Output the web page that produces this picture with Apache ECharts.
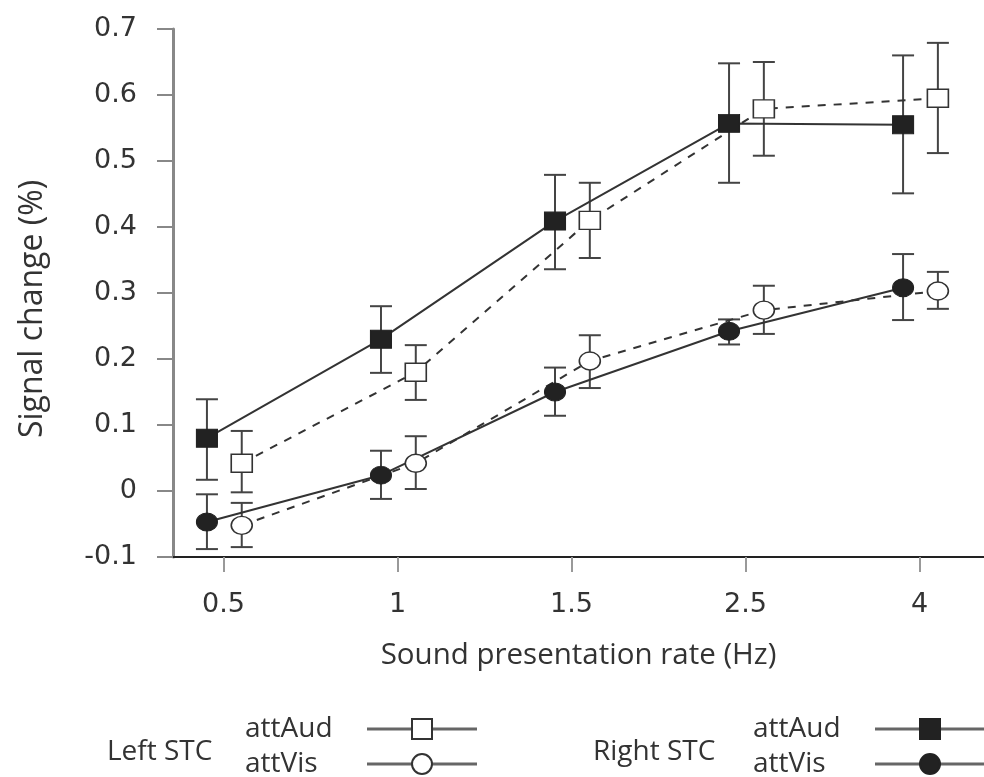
<!DOCTYPE html>
<html>
<head>
<meta charset="utf-8">
<script src="https://cdn.jsdelivr.net/npm/echarts@6/dist/echarts.min.js"></script>
<style>html,body{margin:0;padding:0;background:#fff;}#c{width:984px;height:777px;}</style>
</head>
<body>
<div id="c"></div>
<script>
// Categories (sound presentation rate, Hz) and their axis positions
const xTicks = ['0.5', '1', '1.5', '2.5', '4'];
const xPos = [1, 2, 3, 4, 5];

// Right STC, attend auditory (filled squares)
const rightAud   = [0.080, 0.230, 0.409, 0.557, 0.555];
const rightAudLo = [0.017, 0.179, 0.336, 0.467, 0.451];
const rightAudHi = [0.139, 0.280, 0.479, 0.648, 0.660];
// Right STC, attend visual (filled circles)
const rightVis   = [-0.047, 0.024, 0.150, 0.242, 0.308];
const rightVisLo = [-0.088, -0.012, 0.114, 0.222, 0.259];
const rightVisHi = [-0.005, 0.061, 0.187, 0.260, 0.359];
// Left STC, attend auditory (open squares)
const leftAud   = [0.042, 0.180, 0.410, 0.579, 0.595];
const leftAudLo = [-0.002, 0.138, 0.353, 0.508, 0.512];
const leftAudHi = [0.091, 0.221, 0.467, 0.650, 0.679];
// Left STC, attend visual (open circles)
const leftVis   = [-0.052, 0.042, 0.197, 0.274, 0.303];
const leftVisLo = [-0.085, 0.003, 0.156, 0.238, 0.276];
const leftVisHi = [-0.018, 0.083, 0.236, 0.311, 0.332];

const OFF_R = -0.095, OFF_L = 0.105;

const chart = echarts.init(document.getElementById('c'), null, {renderer: 'canvas'});

function pts(vals, off) { return xPos.map((x, i) => [x + off, vals[i]]); }
function errs(lo, hi, off) { return xPos.map((x, i) => [x + off, lo[i], hi[i]]); }

function errSeries(lo, hi, off) {
  return {
    type: 'custom', z: 1, silent: true,
    data: errs(lo, hi, off),
    encode: {x: 0, y: [1, 2]},
    renderItem: function (params, api) {
      const x = api.value(0);
      const a = api.coord([x, api.value(1)]);
      const b = api.coord([x, api.value(2)]);
      const hw = 11;
      const st = {stroke: '#444', lineWidth: 2};
      return {type: 'group', children: [
        {type: 'line', shape: {x1: a[0], y1: a[1], x2: b[0], y2: b[1]}, style: st},
        {type: 'line', shape: {x1: a[0] - hw, y1: a[1], x2: a[0] + hw, y2: a[1]}, style: st},
        {type: 'line', shape: {x1: b[0] - hw, y1: b[1], x2: b[0] + hw, y2: b[1]}, style: st}
      ]};
    }
  };
}

function lineSeries(name, vals, off, symbol, filled, dashed) {
  return {
    name: name, type: 'line', z: 3,
    data: pts(vals, off),
    symbol: symbol, symbolSize: [21, 18], showAllSymbol: true,
    itemStyle: filled ? {color: '#222', borderColor: '#222', borderWidth: 1}
                      : {color: '#fff', borderColor: '#333', borderWidth: 1.5},
    lineStyle: {color: '#333', width: 2, type: dashed ? [8, 8] : 'solid'}
  };
}

const legendText = {
  fontFamily: 'Open Sans', fontSize: 28, color: '#333', lineHeight: 28,
  rich: {a: {width: 117, align: 'left', fontFamily: 'Open Sans', fontSize: 28, color: '#333', lineHeight: 28}}
};
const legendCommon = {
  orient: 'vertical', top: 715, height: 80, padding: 0,
  align: 'right', itemWidth: 110, itemHeight: 25, itemGap: 7, selectedMode: false,
  formatter: n => '{a|' + n.split(' ').pop() + '}', textStyle: legendText,
  lineStyle: {type: 'solid', width: 3, color: '#666'}
};

chart.setOption({
  backgroundColor: '#ffffff',
  animation: false,
  grid: {left: 173, right: 0, top: 29, bottom: 220, containLabel: false},
  xAxis: {
    type: 'value', min: 0.71, max: 5.37,
    name: 'Sound presentation rate (Hz)', nameLocation: 'middle', nameGap: 84,
    nameTextStyle: {fontFamily: 'Open Sans', fontSize: 29.5, color: '#333'},
    axisLine: {show: true, onZero: false, lineStyle: {color: '#222', width: 2}},
    axisTick: {show: true, customValues: xPos, length: 15, lineStyle: {color: '#999', width: 2}},
    axisLabel: {customValues: xPos, margin: 34, fontFamily: 'DejaVu Sans', fontSize: 27, color: '#333',
      formatter: v => xTicks[xPos.indexOf(Math.round(v))] || ''},
    splitLine: {show: false}
  },
  yAxis: {
    type: 'value', min: -0.1, max: 0.7, interval: 0.1,
    name: 'Signal change (%)', nameLocation: 'middle', nameGap: 124, nameRotate: 90,
    nameTextStyle: {fontFamily: 'Open Sans', fontSize: 32, color: '#333', padding: [0, 32, 0, 0]},
    axisLine: {show: true, onZero: false, lineStyle: {color: '#888', width: 3}},
    axisTick: {show: true, length: 16, lineStyle: {color: '#888', width: 2}},
    axisLabel: {margin: 36, fontFamily: 'DejaVu Sans', fontSize: 27, color: '#333',
      formatter: v => String(Math.round(v * 10) / 10)},
    splitLine: {show: false}
  },
  legend: [
    Object.assign({data: ['Left STC attAud', 'Left STC attVis'], left: 245}, legendCommon),
    Object.assign({data: ['Right STC attAud', 'Right STC attVis'], left: 753}, legendCommon)
  ],
  graphic: [
    {type: 'text', left: 107, top: 738, style: {text: 'Left STC', font: '28px "Open Sans"', fill: '#333'}},
    {type: 'text', left: 593, top: 738, style: {text: 'Right STC', font: '28px "Open Sans"', fill: '#333'}}
  ],
  series: [
    errSeries(rightAudLo, rightAudHi, OFF_R),
    errSeries(rightVisLo, rightVisHi, OFF_R),
    errSeries(leftAudLo, leftAudHi, OFF_L),
    errSeries(leftVisLo, leftVisHi, OFF_L),
    lineSeries('Left STC attAud', leftAud, OFF_L, 'rect', false, true),
    lineSeries('Left STC attVis', leftVis, OFF_L, 'circle', false, true),
    lineSeries('Right STC attAud', rightAud, OFF_R, 'rect', true, false),
    lineSeries('Right STC attVis', rightVis, OFF_R, 'circle', true, false)
  ]
});
</script>
</body>
</html>
